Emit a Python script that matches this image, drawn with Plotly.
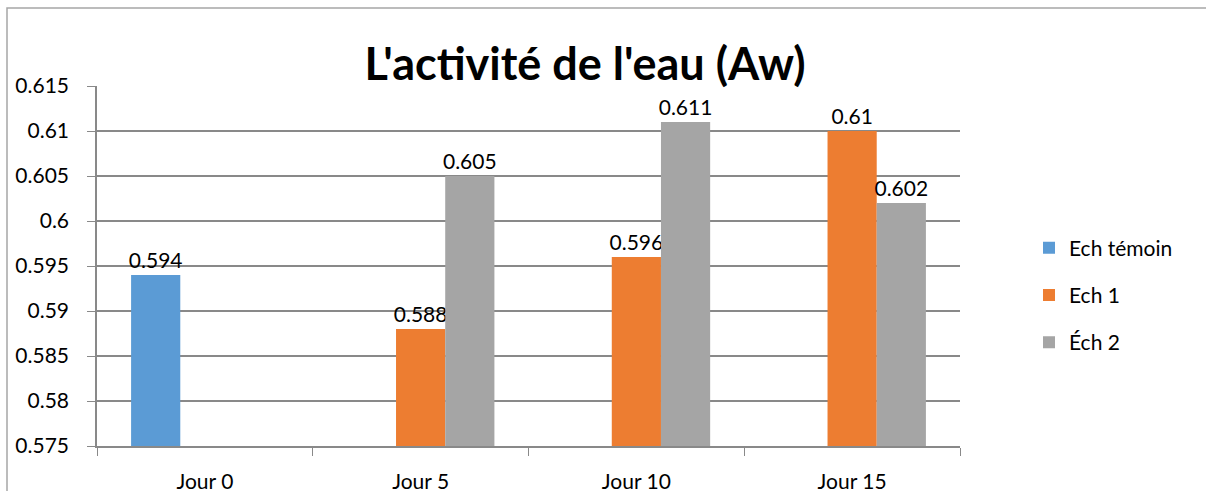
import plotly.graph_objs as go

jours = ["Jour 0", "Jour 5", "Jour 10", "Jour 15"]
ech_temoin = [0.594, None, None, None]
ech_1 = [None, 0.588, 0.596, 0.61]
ech_2 = [None, 0.605, 0.611, 0.602]

series = [
    ("Ech témoin", ech_temoin, "#5B9BD5"),
    ("Ech 1", ech_1, "#ED7D31"),
    ("Éch 2", ech_2, "#A5A5A5"),
]

FONT = "Lato"
W, H = 1206, 491
L, R, T, B = 97, 246, 86, 45
pw, ph = W - L - R, H - T - B

fig = go.Figure()
for name, vals, col in series:
    fig.add_trace(
        go.Bar(
            x=jours,
            y=vals,
            name=name,
            legendgroup=name,
            marker=dict(color=col, line=dict(width=0)),
            text=[("" if v is None else str(v)) for v in vals],
            textposition="outside",
            constraintext="none",
            textfont=dict(family=FONT, size=21, color="black"),
            cliponaxis=False,
        )
    )

# chart border (Excel chart area frame)
fig.add_shape(
    type="rect", xref="paper", yref="paper",
    x0=(7 - L) / pw, x1=(W + 20 - L) / pw,
    y0=-(B + 20) / ph, y1=1 + (T - 8) / ph,
    line=dict(color="#A6A6A6", width=1.5), layer="below",
)

fig.update_layout(
    width=W,
    height=H,
    barmode="group",
    bargap=0.316,
    bargroupgap=0,
    plot_bgcolor="white",
    paper_bgcolor="white",
    margin=dict(l=L, r=R, t=T, b=B, autoexpand=False),
    font=dict(family=FONT, size=21, color="black"),
    title={
        "text": "<b>L'activité de l'eau (Aw)</b>",
        "font": {"family": FONT, "size": 45, "color": "black"},
        "x": 585 / W,
        "y": 1 - 64 / H,
        "xanchor": "center",
        "yanchor": "middle",
    },
    xaxis=dict(
        showgrid=False,
        showline=True,
        linecolor="#898989",
        linewidth=1.5,
        ticks="outside",
        tickson="boundaries",
        ticklen=8,
        tickcolor="#898989",
        tickfont=dict(family=FONT, size=21),
        ticklabelstandoff=16,
    ),
    yaxis=dict(
        range=[0.575, 0.615],
        dtick=0.005,
        tick0=0.575,
        showgrid=True,
        gridcolor="#898989",
        gridwidth=1.5,
        zeroline=False,
        showline=True,
        linecolor="#898989",
        linewidth=1.5,
        ticks="outside",
        ticklen=8,
        tickcolor="#898989",
        tickfont=dict(family=FONT, size=21),
        ticklabelstandoff=14,
    ),
    legend=dict(
        x=1029 / W, xref="container", xanchor="left",
        y=1 - 295 / H, yref="container", yanchor="middle",
        font=dict(family=FONT, size=21),
        tracegroupgap=17,
        itemsizing="constant",
        bgcolor="rgba(0,0,0,0)",
    ),
)

fig.write_html(
    "out.html",
    config={"displayModeBar": False},
    post_script="document.body.style.margin='0';",
)
